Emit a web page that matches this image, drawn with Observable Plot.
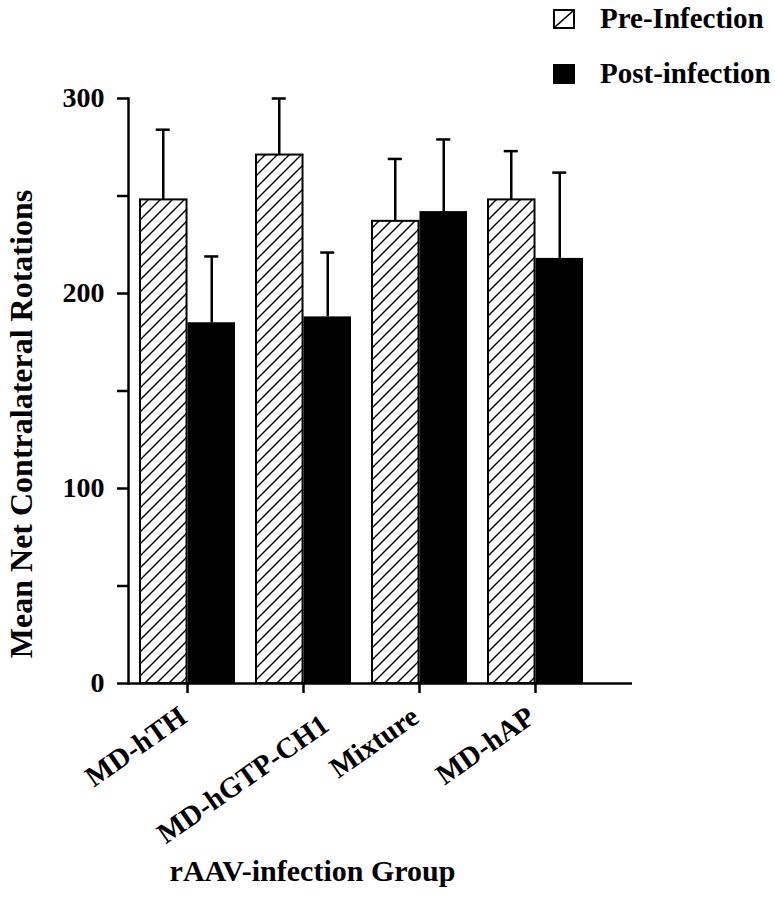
<!DOCTYPE html>
<html>
<head>
<meta charset="utf-8">
<script src="https://cdn.jsdelivr.net/npm/d3@7"></script>
<script src="https://cdn.jsdelivr.net/npm/@observablehq/plot@0.6"></script>
<style>
  html, body { margin: 0; padding: 0; background: #fff; }
  #wrap { position: relative; width: 775px; height: 900px; font-family: "Liberation Serif", "Times New Roman", serif; font-weight: bold; color: #000; }
  #legend { position: absolute; left: 553px; top: -9px; font-size: 29px; }
  .row { display: flex; align-items: center; height: 55px; }
  .row svg { margin-right: 25px; }
</style>
</head>
<body>
<div id="wrap">
  <div id="chart"></div>
  <div id="legend"></div>
</div>
<script>
// ---- data ----
const groups = ["MD-hTH", "MD-hGTP-CH1", "Mixture", "MD-hAP"];
const seriesNames = ["Pre-Infection", "Post-infection"];
const preMeans = [248, 271, 237, 248];
const preErrors = [36, 29, 32, 25];
const postMeans = [185, 188, 242, 218];
const postErrors = [34, 33, 37, 44];
const yTicks = [0, 50, 100, 150, 200, 250, 300];
const yLabel = "Mean Net Contralateral Rotations";
const xLabel = "rAAV-infection Group";

const data = groups.map((g, i) => ({
  group: g,
  pre: preMeans[i], preTop: preMeans[i] + preErrors[i],
  post: postMeans[i], postTop: postMeans[i] + postErrors[i]
}));

// ---- layout ----
const W = 775, H = 900;
const mL = 128, mR = 143, mT = 98, mB = 217;
const xOpts = {paddingInner: 0.171, paddingOuter: 0.24, align: 0.18};
const bw = d3.scaleBand(groups, [mL, W - mR])
  .paddingInner(xOpts.paddingInner).paddingOuter(xOpts.paddingOuter).align(xOpts.align).bandwidth();
const half = bw / 2;
const capW = 15;
const capInset = (half - capW) / 2;
const lw = 2.5;
const longLabel = groups[1];

const chart = Plot.plot({
  width: W, height: H,
  marginLeft: mL, marginRight: mR, marginTop: mT, marginBottom: mB,
  style: {fontFamily: "Liberation Serif, Times New Roman, serif", fontWeight: "bold", fontSize: "28px", color: "#000", background: "#fff"},
  x: {type: "band", domain: groups, ...xOpts, axis: null},
  y: {domain: [0, 300], axis: null},
  marks: [
    // pre-infection (hatched)
    Plot.barY(data, {x: "group", y: "pre", fill: "url(#hatch)", stroke: "#000", strokeWidth: 2, insetRight: half, insetLeft: 1}),
    // post-infection (solid)
    Plot.barY(data, {x: "group", y: "post", fill: "#000", insetLeft: half}),
    // error bars
    Plot.ruleX(data, {x: "group", y1: "pre", y2: "preTop", dx: -half / 2, strokeWidth: lw}),
    Plot.tickY(data, {x: "group", y: "preTop", insetLeft: capInset, insetRight: half + capInset, strokeWidth: lw}),
    Plot.ruleX(data, {x: "group", y1: "post", y2: "postTop", dx: half / 2, strokeWidth: lw}),
    Plot.tickY(data, {x: "group", y: "postTop", insetLeft: half + capInset, insetRight: capInset, strokeWidth: lw}),
    // axes
    Plot.frame({anchor: "left", strokeWidth: lw}),
    Plot.ruleY([0], {strokeWidth: lw}),
    Plot.axisY({ticks: yTicks, tickFormat: d => d % 100 === 0 ? d : "", tickSize: 11, tickPadding: 13, strokeWidth: lw, fontSize: 28, label: null}),
    Plot.axisX({ticks: groups, tickSize: 10, tickFormat: () => "", strokeWidth: lw, label: null}),
    Plot.axisX({ticks: groups.filter(g => g !== longLabel), tickSize: 0, tickPadding: 30, tickRotate: -35, dx: -4, fontSize: 29, label: null}),
    Plot.axisX({ticks: [longLabel], tickSize: 0, tickPadding: 30, tickRotate: -35, dx: 22, dy: 8, fontSize: 29, label: null}),
    // axis titles
    Plot.text([yLabel], {frameAnchor: "left", textAnchor: "middle", rotate: -90, dx: -107, dy: 33, fontSize: 32, fontWeight: "bold"}),
    Plot.text([xLabel], {frameAnchor: "bottom", textAnchor: "middle", dx: -68, dy: 197, fontSize: 30, fontWeight: "bold"})
  ]
});

// hatch pattern definition
const defs = d3.select(chart).insert("defs", ":first-child");
const pat = defs.append("pattern").attr("id", "hatch").attr("patternUnits", "userSpaceOnUse")
  .attr("width", 12).attr("height", 12);
pat.append("rect").attr("width", 12).attr("height", 12).attr("fill", "#fff");
pat.append("path").attr("d", "M-3,3 L3,-3 M0,12 L12,0 M9,15 L15,9")
  .attr("stroke", "#000").attr("stroke-width", 1.4);

document.getElementById("chart").appendChild(chart);

// legend
const legend = d3.select("#legend");
seriesNames.forEach((name, i) => {
  const row = legend.append("div").attr("class", "row");
  const s = row.append("svg").attr("width", 22).attr("height", 20);
  if (i === 0) {
    s.append("rect").attr("x", 1).attr("y", 1).attr("width", 20).attr("height", 18).attr("fill", "#fff").attr("stroke", "#000").attr("stroke-width", 2);
    s.append("line").attr("x1", 2).attr("y1", 18).attr("x2", 20).attr("y2", 2).attr("stroke", "#000").attr("stroke-width", 1.6);
  } else {
    s.append("rect").attr("width", 22).attr("height", 20).attr("fill", "#000");
  }
  row.append("span").text(name);
});
</script>
</body>
</html>
